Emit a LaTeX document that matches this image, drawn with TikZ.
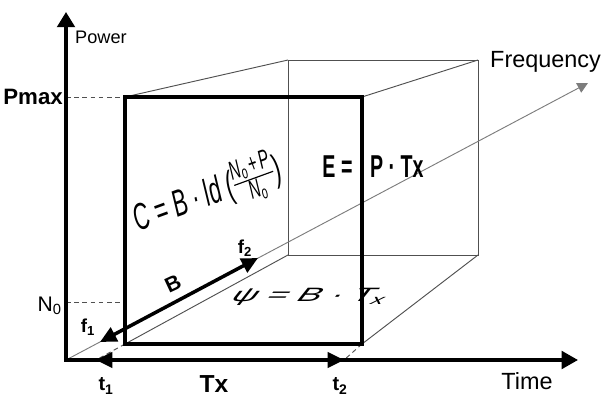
\documentclass[tikz,border=0pt]{standalone}
\usepackage{fontspec}
\usepackage{amsmath}
\setmainfont{Liberation Sans}
\usetikzlibrary{arrows.meta,positioning}
\definecolor{EdgeGray}{RGB}{80,80,80}
\definecolor{AxisGray}{RGB}{125,125,125}
\tikzset{
  axisline/.style={line width=3pt, {Triangle[length=13pt,width=15pt]}-{Triangle[length=14pt,width=15pt]}},
  spanline/.style={line width=3pt, {Triangle[length=14pt,width=13pt]}-{Triangle[length=14pt,width=13pt]}},
  boxedge/.style={line width=4.2pt},
  backedge/.style={draw=EdgeGray, line width=0.8pt},
  guide/.style={draw=EdgeGray, dash pattern=on 4pt off 3pt, line width=0.8pt},
  freqaxis/.style={draw=AxisGray, line width=0.8pt, -{Triangle[length=9pt,width=9pt]}},
  axislabel/.style={font=\fontsize{20}{24}\selectfont, inner sep=0pt},
  ticklabel/.style={font=\bfseries\fontsize{16}{19}\selectfont, inner sep=0pt},
}

\begin{document}
\begin{tikzpicture}[x=0.03cm, y=-0.03cm]
  \useasboundingbox (0,0) rectangle (607,398);
  % axes
  \coordinate (O) at (66,360);
  \coordinate (powertip) at (66,12);
  \coordinate (timetip) at (578,360);
  \coordinate (freqtip) at (588,83);
  % front face (thick) and back face (thin)
  \coordinate (fa) at (125,97);
  \coordinate (fb) at (362,97);
  \coordinate (fc) at (362,344);
  \coordinate (fd) at (125,344);
  \coordinate (ba) at (288,60);
  \coordinate (bb) at (478,60);
  \coordinate (bc) at (478,255);
  \coordinate (bd) at (288,255);
  % marks on the axes
  \coordinate (t1) at (96,360);
  \coordinate (t2) at (344,360);
  \coordinate (f1) at (100,342);
  \coordinate (f2) at (258,258);
  \coordinate (pmax) at (66,97);
  \coordinate (n0) at (66,302);
  \coordinate (n0r) at (125,302);

  \draw[backedge] (ba) -- (bb) -- (bc) -- (bd) -- cycle;
  \draw[backedge] (fa) -- (ba) (fb) -- (bb) (fc) -- (bc) (fd) -- (bd);
  \draw[guide] (fc) -- (t2) (fd) -- (t1);
  \draw[guide] (pmax) -- (fa) (n0) -- (n0r);
  \draw[freqaxis] (O) -- (freqtip);
  \draw[boxedge] (fa) -- (fb) -- (fc) -- (fd) -- cycle;
  \draw[axisline] (powertip) -- (O) -- (timetip);
  \draw[spanline] (t1) -- (t2);
  \draw[spanline] (f1) -- (f2);

  \node[axislabel, font=\fontsize{15.5}{18}\selectfont, anchor=west] (power) at (75,37) {Power};
  \node[axislabel, anchor=west] (freq) at (490,62) {Frequency};
  \node[axislabel] (time) at (527,381) {Time};
  \node[ticklabel, font=\bfseries\fontsize{19}{21}\selectfont, anchor=east] (pmaxlbl) at (63,97) {Pmax};
  \node[ticklabel, font=\fontsize{18}{20}\selectfont, anchor=east] (n0lbl) at (62,306) {N\textsubscript{0}};
  \node[ticklabel] (f1lbl) at (88,327) {f\textsubscript{1}};
  \node[ticklabel] (f2lbl) at (245,248) {f\textsubscript{2}};
  \node[ticklabel, font=\bfseries\fontsize{18}{20}\selectfont, rotate=25] (blbl) at (173,284) {B};
  \node[ticklabel, font=\bfseries\fontsize{17}{19}\selectfont] (t1lbl) at (106,386) {t\textsubscript{1}};
  \node[ticklabel, font=\bfseries\fontsize{17}{19}\selectfont] (t2lbl) at (340,386) {t\textsubscript{2}};
  \node[ticklabel, font=\bfseries\fontsize{21}{23}\selectfont] (txlbl) at (214,384) {Tx};

  \node[inner sep=0pt, font=\bfseries\fontsize{27}{30}\selectfont] (energy) at (373,167)
    {\scalebox{0.62}[1]{E =\hspace{0.9em}P · Tx}};
  \node[inner sep=0pt, rotate=20, font=\fontsize{32}{36}\selectfont\itshape] (capacity) at (208,195)
    {\scalebox{0.58}[1]{C = B · ld (\raisebox{3pt}{$\frac{\text{\itshape N\textsubscript{o}\,+\,P}}{\text{\itshape N\textsubscript{o}}}$})}};
  \begin{scope}[shift={(310,297)}, xslant=0.8, yscale=0.55, transform shape]
    \node[inner sep=0pt, font=\fontsize{30}{30}\selectfont] (psi) at (0,0) {ψ = B · T\textsubscript{x}};
  \end{scope}
\end{tikzpicture}
\end{document}
